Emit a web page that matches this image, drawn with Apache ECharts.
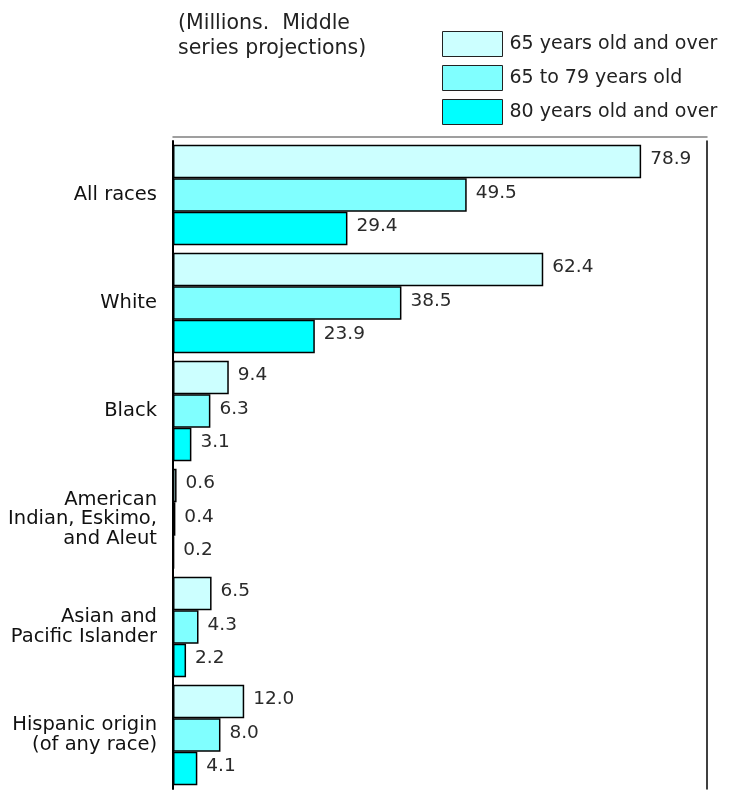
<!DOCTYPE html>
<html>
<head>
<meta charset="utf-8">
<style>
  html, body { margin: 0; padding: 0; background: #fff; }
  #chart { width: 732px; height: 791px; }
</style>
<script src="https://cdn.jsdelivr.net/npm/echarts@6/dist/echarts.min.js"></script>
</head>
<body>
<div id="chart"></div>
<script>
// Population 65+ by race / Hispanic origin, in millions (middle series projections)
var categories = [
  'All races',
  'White',
  'Black',
  'American\nIndian, Eskimo,\nand Aleut',
  'Asian and\nPacific Islander',
  'Hispanic origin\n(of any race)'
];
var seriesNames = ['65 years old and over', '65 to 79 years old', '80 years old and over'];
var age65Plus  = [78.9, 62.4, 9.4, 0.6, 6.5, 12.0];
var age65to79  = [49.5, 38.5, 6.3, 0.4, 4.3, 8.0];
var age80Plus  = [29.4, 23.9, 3.1, 0.2, 2.2, 4.1];
var seriesColors = ['#ccffff', '#80ffff', '#00ffff'];

var FONT = '"DejaVu Sans", "Liberation Sans", Arial, sans-serif';
var chart = echarts.init(document.getElementById('chart'), null, { renderer: 'canvas' });

function barSeries(name, values, color) {
  return {
    name: name,
    type: 'bar',
    data: values,
    barWidth: 33.5,
    barGap: '0%',
    itemStyle: { color: color, borderColor: '#000', borderWidth: 1.5 },
    label: {
      show: true,
      position: 'right',
      distance: 9,
      offset: [0, -2],
      fontFamily: FONT,
      fontSize: 18.5,
      color: '#2a2a2a',
      formatter: function (p) { return p.value.toFixed(1); }
    },
    emphasis: { disabled: true },
    animation: false
  };
}

chart.setOption({
  backgroundColor: '#fff',
  animation: false,
  title: {
    text: '(Millions.  Middle\nseries projections)',
    left: 173,
    top: 6,
    textStyle: { fontFamily: FONT, fontSize: 20.5, fontWeight: 'normal', color: '#222', lineHeight: 25 }
  },
  legend: {
    orient: 'vertical',
    left: 437,
    top: 26,
    itemWidth: 60,
    itemHeight: 25,
    itemGap: 8,
    icon: 'rect',
    data: seriesNames,
    itemStyle: { borderColor: '#222', borderWidth: 1 },
    textStyle: { fontFamily: FONT, fontSize: 19, color: '#222', padding: [0, 0, 0, 2] },
    selectedMode: false
  },
  grid: { left: 173, width: 534, top: 141, height: 648, containLabel: false },
  xAxis: [{
    type: 'value',
    position: 'top',
    offset: 4,
    min: 0,
    max: 90,
    axisLine: { show: true, lineStyle: { color: '#808080', width: 1.5 } },
    axisTick: { show: false },
    axisLabel: { show: false },
    splitLine: { show: false }
  }],
  yAxis: [{
    type: 'category',
    data: categories,
    inverse: true,
    axisLine: { show: true, lineStyle: { color: '#000', width: 2 } },
    axisTick: { show: false },
    axisLabel: {
      margin: 16,
      fontFamily: FONT,
      fontSize: 19.5,
      color: '#111',
      lineHeight: 19.5,
      align: 'right'
    }
  }, {
    type: 'category',
    data: categories,
    inverse: true,
    position: 'right',
    axisLine: { show: true, lineStyle: { color: '#000', width: 1.5 } },
    axisTick: { show: false },
    axisLabel: { show: false }
  }],
  series: [
    barSeries(seriesNames[0], age65Plus, seriesColors[0]),
    barSeries(seriesNames[1], age65to79, seriesColors[1]),
    barSeries(seriesNames[2], age80Plus, seriesColors[2])
  ]
});
</script>
</body>
</html>
